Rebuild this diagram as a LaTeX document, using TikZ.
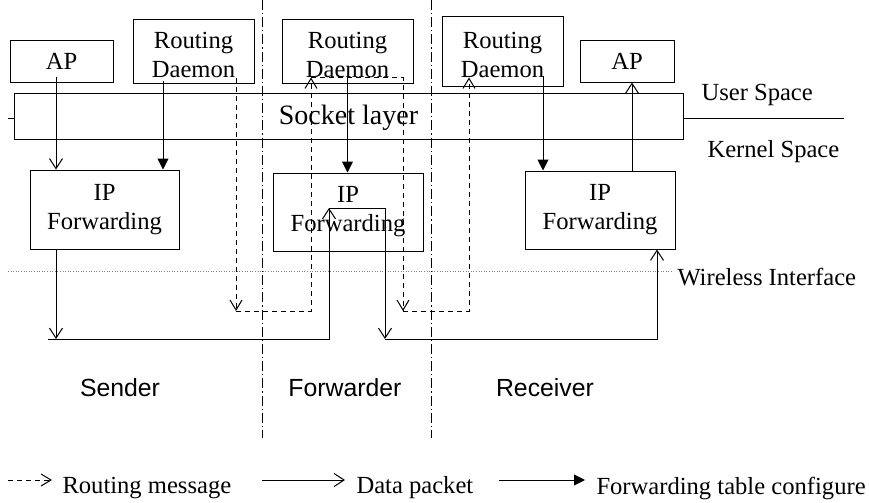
\documentclass[tikz,border=0pt]{standalone}
\usepackage{fontspec}
\setmainfont{Liberation Serif}
\setsansfont{Liberation Sans}
\usetikzlibrary{arrows.meta}
\newcommand\rdtop{\rule{0pt}{12.5pt}}
\tikzset{
  box/.style={draw, inner sep=0pt, align=center, font=\fontsize{12.3}{14.5}\selectfont},
  lbl/.style={inner sep=0pt, anchor=west, font=\fontsize{12.3}{14.5}\selectfont},
  role/.style={inner sep=0pt, font=\sffamily\fontsize{12.4}{14.5}\selectfont},
  data/.style={-{Straight Barb[length=5pt,width=6.5pt]}},
  msg/.style={dash pattern=on 2.5pt off 2pt, -{Straight Barb[length=5pt,width=6pt]}},
  cfg/.style={-{Triangle[length=5.5pt,width=5.5pt]}},
  sep/.style={dash pattern=on 5pt off 1.5pt on 0.6pt off 1.5pt},
}
\begin{document}
\begin{tikzpicture}[x=0.5pt, y=-0.5pt, line width=0.5pt]
\useasboundingbox (0,0) rectangle (869,503);
% user space
\node[box, minimum width=51.5pt, minimum height=21pt] (ap1) at (61.5,61) {AP};
\node[box, minimum width=60.5pt, minimum height=32pt] (rd1) at (193.5,51) {\rdtop Routing\\Daemon};
\node[box, minimum width=65.5pt, minimum height=32pt] (rd2) at (347.5,51) {\rdtop Routing\\Daemon};
\node[box, minimum width=60.5pt, minimum height=35pt] (rd3) at (502.5,51) {\rdtop Routing\\Daemon};
\node[box, minimum width=47pt, minimum height=21pt] (ap2) at (627,61) {AP};
\node[box, minimum width=334.5pt, minimum height=23pt, font=\fontsize{14}{16}\selectfont] (sock) at (348.5,116) {\rule{0pt}{11.5pt}Socket layer};
% kernel
\node[box, minimum width=74.5pt, minimum height=39.5pt] (ip1) at (104.5,209.5) {IP\\Forwarding};
\node[box, minimum width=75pt, minimum height=39pt] (ip2) at (348,212) {IP\\Forwarding};
\node[box, minimum width=75pt, minimum height=39pt] (ip3) at (600,210) {IP\\Forwarding};

\draw ([yshift=-1pt]sock.west) -- ++(-6,0);
\draw ([yshift=-1pt]sock.east) -- ++(160,0);
\node[lbl] (us) at (701,95) {User Space};
\node[lbl] (ks) at (707,152) {Kernel Space};
\draw[gray, dash pattern=on 0.5pt off 0.8pt] (8,271) -- (673,271);
\node[lbl] (wi) at (677,277) {Wireless Interface};
\draw[sep] (262,0) -- (262,438);
\draw[sep] (431,0) -- (431,438);

\coordinate (air) at (0,311);
\coordinate (bus) at (48,339);

% forwarding table configure
\coordinate (a1) at ([xshift=-2.75pt,yshift=3pt]ap1.south);
\coordinate (c1) at ([xshift=-15.25pt,yshift=1.5pt]rd1.south);
\coordinate (c2) at ([yshift=3pt]rd2.south);
\coordinate (c3) at ([xshift=20.25pt,yshift=5.5pt]rd3.south);
\coordinate (a2) at ([xshift=2.5pt]ap2.south);
\draw[data] (a1) -- (a1 |- ip1.north);
\draw[cfg] (c1) -- (c1 |- ip1.north);
\draw[cfg] (c2) -- (c2 |- ip2.north);
\draw[cfg] (c3) -- (c3 |- ip3.north);
\draw[data] (a2 |- ip3.north) -- (a2);

% routing messages
\coordinate (r1) at ([xshift=21.25pt,yshift=3pt]rd1.south);
\coordinate (r2) at ([xshift=-18.25pt,yshift=3pt]rd2.south);
\coordinate (r3) at ([xshift=27.75pt,yshift=3pt]rd2.south);
\coordinate (r4) at ([xshift=-16.75pt,yshift=4.5pt]rd3.south);
\draw[msg] (r1) -- (r1 |- air);
\draw[msg] (r1 |- air) -| (r2);
\draw[msg] (r2) -| (r3 |- air);
\draw[msg] (r3 |- air) -| (r4);

% data packets
\coordinate (d1) at ([xshift=-24.25pt]ip1.south);
\coordinate (d2) at ([xshift=-9.5pt,yshift=2pt]ip2.center);
\coordinate (d3) at ([xshift=18.5pt,yshift=2pt]ip2.center);
\coordinate (d4) at ([xshift=28.5pt]ip3.south);
\draw[data] (d1) -- (d1 |- bus);
\draw[data] (bus) -| (d2);
\draw[data] (d2) -- (d3) -- (d3 |- bus);
\draw[data] (d3 |- bus) -| (d4);

\node[role] (snd) at (120,388) {Sender};
\node[role] (fwd) at (345,388) {Forwarder};
\node[role] (rcv) at (545,388) {Receiver};

% legend
\node[lbl] (lgmsg) at (62,488) {Routing message};
\node[lbl] (lgdata) at (356,488) {Data packet};
\node[lbl] (lgcfg) at (596,488) {Forwarding table configure};
\draw[msg] ([xshift=-27pt,yshift=4pt]lgmsg.west) -- ([xshift=-5pt,yshift=4pt]lgmsg.west);
\draw[data] ([xshift=-47pt,yshift=4pt]lgdata.west) -- ([xshift=-5.5pt,yshift=4pt]lgdata.west);
\draw[cfg] ([xshift=-48.5pt,yshift=4pt]lgcfg.west) -- ([xshift=-5.5pt,yshift=4pt]lgcfg.west);
\end{tikzpicture}
\end{document}
